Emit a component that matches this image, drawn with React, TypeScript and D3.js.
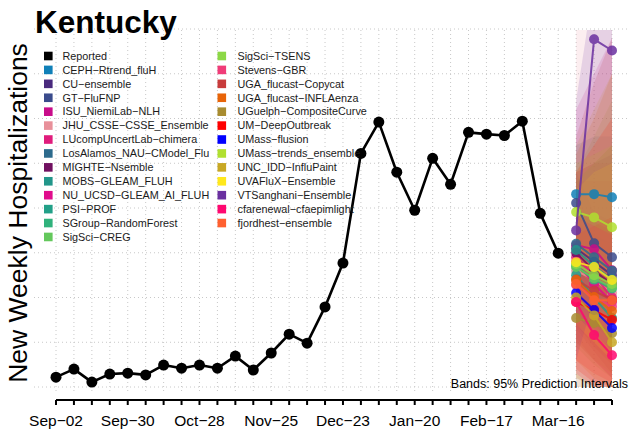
import React from "react";
import * as d3 from "d3";

const W = 629;
const H = 435;
const FONT = "'Liberation Sans', Arial, Helvetica, sans-serif";

const reportedDates = [
  "2023-09-02","2023-09-09","2023-09-16","2023-09-23","2023-09-30","2023-10-07","2023-10-14",
  "2023-10-21","2023-10-28","2023-11-04","2023-11-11","2023-11-18","2023-11-25","2023-12-02",
  "2023-12-09","2023-12-16","2023-12-23","2023-12-30","2024-01-06","2024-01-13","2024-01-20",
  "2024-01-27","2024-02-03","2024-02-10","2024-02-17","2024-02-24","2024-03-02","2024-03-09",
  "2024-03-16",
];
const reportedValues = [
  22, 40, 11, 29, 31, 27, 49, 42, 49, 42, 69, 38, 76, 118, 98, 179, 277, 522, 592, 480, 395,
  511, 453, 569, 565, 562, 594, 388, 299,
];

const forecastDates = ["2024-03-23", "2024-03-30", "2024-04-06"];

const tickDates = [
  "2023-09-02","2023-09-30","2023-10-28","2023-11-25","2023-12-23","2024-01-20","2024-02-17","2024-03-16",
];
const tickLabels = ["Sep\u221202","Sep\u221230","Oct\u221228","Nov\u221225","Dec\u221223","Jan\u221220","Feb\u221217","Mar\u221216"];
const axisStart = "2023-09-02";
const axisEnd = "2024-04-06";
const gridValues = [0, 100, 200, 300, 400, 500, 600, 700, 800];

const modelNames = [
  "CEPH\u2212Rtrend_fluH","CU\u2212ensemble","GT\u2212FluFNP","ISU_NiemiLab\u2212NLH",
  "JHU_CSSE\u2212CSSE_Ensemble","LUcompUncertLab\u2212chimera","LosAlamos_NAU\u2212CModel_Flu",
  "MIGHTE\u2212Nsemble","MOBS\u2212GLEAM_FLUH","NU_UCSD\u2212GLEAM_AI_FLUH","PSI\u2212PROF",
  "SGroup\u2212RandomForest","SigSci\u2212CREG","SigSci\u2212TSENS","Stevens\u2212GBR",
  "UGA_flucast\u2212Copycat","UGA_flucast\u2212INFLAenza","UGuelph\u2212CompositeCurve",
  "UM\u2212DeepOutbreak","UMass\u2212flusion","UMass\u2212trends_ensemble","UNC_IDD\u2212InfluPaint",
  "UVAFluX\u2212Ensemble","VTSanghani\u2212Ensemble","cfarenewal\u2212cfaepimlight","fjordhest\u2212ensemble",
];
const modelColors = [
  "#1080B8","#4A2A7E","#3A4B8C","#C80C8A","#E8909A","#E01C7C","#2D6B8D","#701060","#22968A",
  "#E00C8C","#22A088","#30B27C","#64C85C","#8CD846","#F03C78","#C83C3C","#E86408","#A88C30",
  "#FF0000","#0000FF","#B0E030","#C8A824","#FFE81C","#6A30A0","#FF0870","#FF6030",
];
const modelMedian = [
  [431,431,424],[310,280,250],[411,321,290],[317,308,261],[260,240,210],[290,250,200],
  [320,290,260],[300,260,230],[306,270,240],[280,230,190],[250,200,154],[270,240,220],
  [268,243,223],[275,250,230],[228,200,180],[240,215,195],[239,201,170],[154,143,120],
  [190,172,150],[210,172,132],[391,379,357],[200,160,100],[279,268,239],[350,777,752],
  [190,116,71],[230,194,194],
];
const modelLower = [
  [330,330,320],[240,200,170],[340,260,220],[100,60,20],[0,0,0],[130,80,30],
  [260,220,180],[140,90,50],[250,210,170],[110,60,20],[190,140,100],[210,180,150],
  [90,50,20],[100,60,30],[40,10,0],[20,0,0],[60,20,0],[0,0,0],
  [60,30,10],[160,120,80],[300,260,220],[20,0,0],[140,100,60],[60,200,200],
  [30,0,0],[40,10,0],
];
const modelUpper = [
  [540,560,560],[390,370,340],[480,390,370],[620,700,780],[860,880,900],[480,500,500],
  [390,370,350],[480,500,520],[370,340,320],[460,460,460],[310,270,220],[330,310,300],
  [460,500,540],[460,500,540],[480,540,600],[560,680,780],[520,600,700],[480,560,640],
  [340,360,380],[260,230,190],[500,520,540],[540,620,700],[440,480,500],[640,900,900],
  [380,360,340],[480,540,600],
];

const parse = (s: string) => new Date(s + "T00:00:00Z");

export default function App() {
  const x = d3.scaleUtc().domain([parse(axisStart), parse(axisEnd)]).range([56, 612]);
  const y = d3.scaleLinear().domain([0, 800]).range([387, 29]);
  const plotTop = 30;
  const plotBottom = 394;
  const plotLeft = 34;
  const plotRight = 629;

  const allWeeks = d3.utcDay.range(parse(axisStart), d3.utcDay.offset(parse(axisEnd), 1), 7);

  const line = d3.line<[Date, number]>().x((d) => x(d[0])).y((d) => y(d[1]));
  const area = d3.area<[Date, number, number]>()
    .x((d) => x(d[0])).y0((d) => y(d[1])).y1((d) => y(d[2]));

  const reported: [Date, number][] = reportedDates.map((d, i) => [parse(d), reportedValues[i]]);
  const fDates = forecastDates.map(parse);

  const legendItems = [{ name: "Reported", color: "#000000" }].concat(
    modelNames.map((n, i) => ({ name: n, color: modelColors[i] }))
  );
  const rowH = 13.92;

  return (
    <svg width={W} height={H} style={{ position: "absolute", left: 0, top: 0, background: "#fff" }} fontFamily={FONT}>
      <defs>
        <clipPath id="plotclip">
          <rect x={plotLeft} y={plotTop} width={plotRight - plotLeft} height={plotBottom - plotTop} />
        </clipPath>
      </defs>
      {/* grid */}
      <g stroke="#c8c8c8" strokeWidth={1} strokeDasharray="1,3">
        {allWeeks.map((d, i) => (
          <line key={"v" + i} x1={x(d)} x2={x(d)} y1={plotTop} y2={plotBottom} />
        ))}
        {gridValues.map((v) => (
          <line key={"h" + v} x1={plotLeft} x2={plotRight} y1={y(v)} y2={y(v)} />
        ))}
      </g>
      {/* bands */}
      <g clipPath="url(#plotclip)">
        {modelNames.map((n, i) => {
          const pts: [Date, number, number][] = fDates.map((d, k) => [d, modelLower[i][k], modelUpper[i][k]]);
          return <path key={"b" + i} d={area(pts) || ""} fill={modelColors[i]} fillOpacity={0.15} stroke="none" />;
        })}
      </g>
      {/* reported */}
      <path d={line(reported) || ""} fill="none" stroke="#000" strokeWidth={2.6} strokeLinejoin="round" />
      {reported.map((d, i) => (
        <circle key={"r" + i} cx={x(d[0])} cy={y(d[1])} r={5.5} fill="#000" />
      ))}
      {/* forecasts */}
      <g clipPath="url(#plotclip)">
        {modelNames.map((n, i) => {
          const pts: [Date, number][] = fDates.map((d, k) => [d, modelMedian[i][k]]);
          return (
            <g key={"f" + i} opacity={0.85}>
              <path d={line(pts) || ""} fill="none" stroke={modelColors[i]} strokeWidth={2} />
              {pts.map((p, k) => (
                <circle key={k} cx={x(p[0])} cy={y(p[1])} r={5} fill={modelColors[i]} />
              ))}
            </g>
          );
        })}
      </g>
      {/* x axis */}
      <g stroke="#000" strokeWidth={2}>
        <line x1={x(parse(axisStart))} x2={x(parse(axisEnd))} y1={400} y2={400} />
        {allWeeks.map((d, i) => (
          <line key={"t" + i} x1={x(d)} x2={x(d)} y1={400} y2={405} />
        ))}
      </g>
      {tickDates.map((d, i) => (
        <text key={"tl" + i} x={x(parse(d))} y={426} textAnchor="middle" fontSize={15.5} fill="#000">
          {tickLabels[i]}
        </text>
      ))}
      {/* legend */}
      {legendItems.map((it, i) => {
        const col = i < 14 ? 0 : 1;
        const row = i < 14 ? i : i - 14;
        const sx = col === 0 ? 44 : 217.5;
        const tx = col === 0 ? 62.5 : 237.5;
        const cy = 56 + row * rowH;
        return (
          <g key={"l" + i}>
            <rect x={sx} y={cy - 4.3} width={8.6} height={8.6} fill={it.color} />
            <text x={tx} y={cy + 3.8} fontSize={10.8} fill="#1a1a1a">{it.name}</text>
          </g>
        );
      })}
      {/* title */}
      <text x={35} y={33} fontSize={31.5} fontWeight="bold" fill="#000">Kentucky</text>
      {/* y label */}
      <text transform="translate(27,213) rotate(-90)" textAnchor="middle" fontSize={26.5} fill="#000">
        New Weekly Hospitalizations
      </text>
      <text x={628} y={388} textAnchor="end" fontSize={12.5} fill="#000">Bands: 95% Prediction Intervals</text>
    </svg>
  );
}
